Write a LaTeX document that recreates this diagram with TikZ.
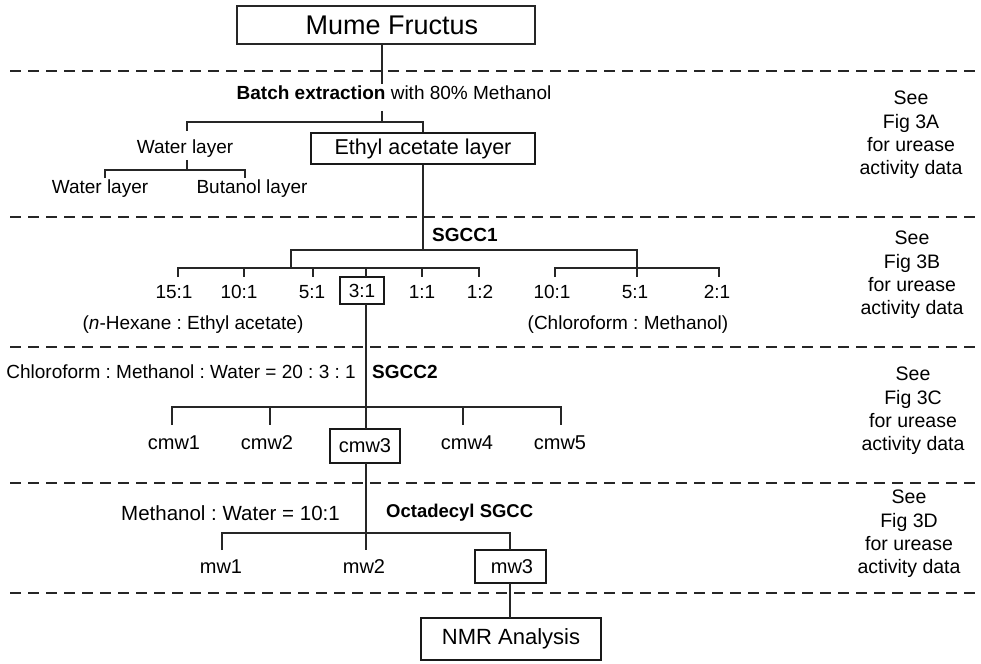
\documentclass[tikz,border=0pt]{standalone}
\usepackage{fontspec}
\setmainfont{Liberation Sans}
\frenchspacing
\begin{document}
\frenchspacing
\begin{tikzpicture}[x=1pt,y=-1pt,
  conn/.style={line width=1.4pt, black!85},
  sepline/.style={line width=2.2pt, black!85, dash pattern=on 11pt off 7pt},
  thinbox/.style={draw=black!85, line width=1.5pt, inner sep=0pt},
  thickbox/.style={draw=black!90, line width=2.4pt, inner sep=0pt},
  lab/.style={inner sep=0pt, font=\fontsize{19}{23}\selectfont},
  big/.style={inner sep=0pt, font=\fontsize{21.5}{25}\selectfont},
  side/.style={inner sep=0pt, align=center, font=\fontsize{19.5}{23.3}\selectfont}]
\useasboundingbox (0,0) rectangle (981,663);

% separators
\foreach \yy/\nm in {71/s1,217/s2,347/s3,483/s4,593/s5}{
  \coordinate (\nm L) at (10,\yy);
  \coordinate (\nm R) at (981,\yy);
  \draw[sepline] (\nm L) -- (\nm R);
}

% ---------- row A ----------
\node[thinbox, minimum width=298pt, minimum height=38pt,
      font=\fontsize{27}{30}\selectfont] (mume) at (386,25) {\hspace*{12pt}Mume Fructus};
\node[lab] (batch) at (394,93) {\textbf{Batch extraction} with 80\% Methanol};
\node[lab] (wtop) at (185,149) {Water layer};
\node[thickbox, minimum width=224pt, minimum height=31pt, big] (eth) at (423,148.5) {Ethyl acetate layer};
\node[lab] (wl) at (100,189) {Water layer};
\node[lab] (bl) at (252,189) {Butanol layer};

\coordinate (a0) at (382,84);
\coordinate (a1) at (382,111);
\coordinate (hA) at (382,122);
\coordinate (wA) at (187,122);
\coordinate (wA2) at (187,131);
\coordinate (eA) at (423,122);
\draw[conn] (mume.south -| a0) -- (a0);
\draw[conn] (a1) -- (hA);
\draw[conn] (wA2) -- (wA) -- (eA) -- (eth.north);

\coordinate (w1) at (187,160);
\coordinate (w2) at (187,170);
\coordinate (wlh) at (105,170);
\coordinate (wlt) at (105,178);
\coordinate (blh) at (245,170);
\coordinate (blt) at (245,178);
\draw[conn] (w1) -- (w2);
\draw[conn] (wlt) -- (wlh) -- (blh) -- (blt);

% ---------- row B ----------
\node[inner sep=0pt, anchor=west, font=\bfseries\fontsize{19}{23}\selectfont] (sg1) at (432,235) {SGCC1};
\coordinate (b0) at (423,250);
\draw[conn] (eth.south) -- (b0);

\coordinate (bL) at (291,250);
\coordinate (bR) at (637,250);
\coordinate (bL2) at (291,268);
\coordinate (bR3) at (637,277);
\draw[conn] (bL2) -- (bL) -- (bR) -- (bR3);

\node[lab] (h15) at (174,292) {15:1};
\node[lab] (h10) at (239,292) {10:1};
\node[lab] (h5)  at (312,292) {5:1};
\node[thickbox, minimum width=44pt, minimum height=27pt, lab] (h3) at (362,290.5) {3:1};
\node[lab] (h11) at (422,292) {1:1};
\node[lab] (h12) at (480,292) {1:2};
\node[lab] (c10) at (552,292) {10:1};
\node[lab] (c5)  at (635,292) {5:1};
\node[lab] (c2)  at (717,292) {2:1};
\node[lab] (hex) at (193,325) {(\textit{n}-Hexane : Ethyl acetate)};
\node[lab] (chl) at (628,325) {(Chloroform : Methanol)};

\coordinate (t15a) at (178,277); \coordinate (t15b) at (178,268);
\coordinate (t12a) at (479,277); \coordinate (t12b) at (479,268);
\draw[conn] (t15a) -- (t15b) -- (t12b) -- (t12a);
\foreach \xx/\nm in {244/k1,313/k2,366/k3,422/k4}{
  \coordinate (\nm a) at (\xx,268);
  \coordinate (\nm b) at (\xx,277);
  \draw[conn] (\nm a) -- (\nm b);
}
\coordinate (c10a) at (555,277); \coordinate (c10b) at (555,268);
\coordinate (c2a) at (719,277); \coordinate (c2b) at (719,268);
\draw[conn] (c10a) -- (c10b) -- (c2b) -- (c2a);

% ---------- row C ----------
\node[lab, anchor=east] (cmwsolv) at (356,372) {Chloroform : Methanol : Water = 20 : 3 : 1};
\node[inner sep=0pt, anchor=west, font=\bfseries\fontsize{19}{23}\selectfont] (sg2) at (372,372) {SGCC2};

\node[lab, font=\fontsize{20}{24}\selectfont] (cmw1) at (174,443) {cmw1};
\node[lab, font=\fontsize{20}{24}\selectfont] (cmw2) at (267,443) {cmw2};
\node[thickbox, minimum width=70pt, minimum height=34pt, font=\fontsize{20}{24}\selectfont] (cmw3) at (365,446) {cmw3};
\node[lab, font=\fontsize{20}{24}\selectfont] (cmw4) at (467,443) {cmw4};
\node[lab, font=\fontsize{20}{24}\selectfont] (cmw5) at (560,443) {cmw5};

\coordinate (v3a) at (366,304);
\coordinate (v3b) at (366,429);
\draw[conn] (v3a) -- (v3b);
\coordinate (cLa) at (172,425); \coordinate (cLb) at (172,407);
\coordinate (cRa) at (561,425); \coordinate (cRb) at (561,407);
\draw[conn] (cLa) -- (cLb) -- (cRb) -- (cRa);
\foreach \xx/\nm in {270/m1,463/m2}{
  \coordinate (\nm a) at (\xx,407);
  \coordinate (\nm b) at (\xx,425);
  \draw[conn] (\nm a) -- (\nm b);
}

% ---------- row D ----------
\node[lab, anchor=east, font=\fontsize{20.5}{24}\selectfont] (mwsolv) at (340,513) {Methanol : Water = 10:1};
\node[inner sep=0pt, anchor=west, font=\bfseries\fontsize{18.5}{23}\selectfont] (oct) at (386,513) {Octadecyl SGCC};

\node[lab, font=\fontsize{20}{24}\selectfont] (mw1) at (221,567) {mw1};
\node[lab, font=\fontsize{20}{24}\selectfont] (mw2) at (364,567) {mw2};
\node[thickbox, minimum width=71pt, minimum height=33pt, font=\fontsize{20}{24}\selectfont] (mw3) at (510.5,566.5) {\hspace*{3pt}mw3};

\coordinate (d0) at (366,463);
\coordinate (d1) at (366,550);
\draw[conn] (d0) -- (d1);
\coordinate (dLa) at (222,550); \coordinate (dLb) at (222,533);
\coordinate (dRb) at (510,533); \coordinate (dRa) at (510,550);
\draw[conn] (dLa) -- (dLb) -- (dRb) -- (dRa);

\node[thickbox, minimum width=180pt, minimum height=42pt, font=\fontsize{22}{26}\selectfont] (nmr) at (511,639) {NMR Analysis};
\coordinate (e0) at (510,583);
\coordinate (e1) at (510,618);
\draw[conn] (e0) -- (e1);

% ---------- side notes ----------
\node[side] (n3a) at (911,135) {See\\Fig 3A\\for urease\\activity data};
\node[side] (n3b) at (912,275) {See\\Fig 3B\\for urease\\activity data};
\node[side] (n3c) at (913,411) {See\\Fig 3C\\for urease\\activity data};
\node[side] (n3d) at (909,534) {See\\Fig 3D\\for urease\\activity data};
\end{tikzpicture}
\end{document}
